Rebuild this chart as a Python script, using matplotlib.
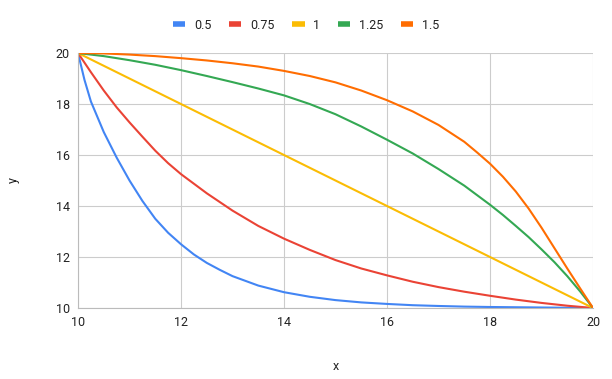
import matplotlib.pyplot as plt

plt.rcParams['font.family'] = ['Roboto', 'DejaVu Sans']

# series (x, y)
x_05 = [10, 10.125, 10.25, 10.5, 10.75, 11, 11.25, 11.5, 11.75, 12, 12.25, 12.5, 12.75, 13, 13.5, 14, 14.5, 15,
        15.5, 16, 16.5, 17, 17.5, 18, 19, 20]
y_05 = [20, 18.95, 18.1, 16.9, 15.9, 15.0, 14.2, 13.5, 12.95, 12.5, 12.1, 11.77, 11.5, 11.25, 10.88, 10.62,
        10.44, 10.31, 10.22, 10.16, 10.11, 10.08, 10.055, 10.04, 10.02, 10]

x_075 = [10, 10.25, 10.5, 10.75, 11, 11.25, 11.5, 11.75, 12, 12.5, 13, 13.5, 14, 14.5, 15, 15.5, 16, 16.5,
         17, 17.5, 18, 18.5, 19, 19.5, 20]
y_075 = [20, 19.25, 18.53, 17.87, 17.28, 16.72, 16.17, 15.68, 15.25, 14.5, 13.82, 13.22, 12.72, 12.28, 11.88,
         11.55, 11.28, 11.03, 10.82, 10.64, 10.48, 10.33, 10.2, 10.09, 10]

x_1 = [10, 20]
y_1 = [20, 10]

x_125 = [10, 10.5, 11, 11.5, 12, 12.5, 13, 13.5, 14, 14.5, 15, 15.5, 16, 16.5, 17, 17.5, 18, 18.25, 18.5,
         18.75, 19, 19.25, 19.5, 19.75, 20]
y_125 = [20, 19.88, 19.72, 19.54, 19.33, 19.1, 18.86, 18.61, 18.34, 18.0, 17.6, 17.12, 16.6, 16.06, 15.45,
         14.8, 14.05, 13.65, 13.22, 12.78, 12.3, 11.8, 11.25, 10.65, 10]

x_15 = [10, 10.5, 11, 11.5, 12, 12.5, 13, 13.5, 14, 14.5, 15, 15.5, 16, 16.5, 17, 17.5, 17.75, 18, 18.25,
        18.5, 18.75, 19, 19.25, 19.5, 19.75, 20]
y_15 = [20, 19.985, 19.94, 19.88, 19.8, 19.71, 19.6, 19.47, 19.3, 19.1, 18.85, 18.53, 18.15, 17.71, 17.18,
        16.52, 16.1, 15.66, 15.15, 14.57, 13.9, 13.15, 12.35, 11.55, 10.77, 10]

labels = ["0.5", "0.75", "1", "1.25", "1.5"]
colors = ["#4285F4", "#EA4335", "#FBBC04", "#34A853", "#FF6D01"]
series = [(x_05, y_05), (x_075, y_075), (x_1, y_1), (x_125, y_125), (x_15, y_15)]

fig = plt.figure(figsize=(6.12, 3.79), dpi=100)
ax = fig.add_axes([0.1275, 0.1873, 0.969 - 0.1275, 0.860 - 0.1873])

for (xs, ys), lab, c in zip(series, labels, colors):
    ax.plot(xs, ys, color=c, linewidth=1.5, label=lab, solid_capstyle='round', solid_joinstyle='round')

ax.set_xlim(10, 20)
ax.set_ylim(10, 20)
ax.set_xticks([10, 12, 14, 16, 18, 20])
ax.set_yticks([10, 12, 14, 16, 18, 20])
ax.grid(True, color="#cccccc", linewidth=0.8)
ax.set_axisbelow(True)
for s in ax.spines.values():
    s.set_visible(False)
ax.spines['bottom'].set_visible(True)
ax.spines['bottom'].set_color("#bbbbbb")
ax.spines['left'].set_visible(True)
ax.spines['left'].set_color("#bbbbbb")
ax.tick_params(length=0, labelsize=9, labelcolor="#222222", pad=6)

ax.set_xlabel("x", fontsize=9, color="#222222", labelpad=22)
ax.set_ylabel("y", fontsize=9, color="#222222", labelpad=26)

leg = fig.legend(loc='center', bbox_to_anchor=(0.5, 0.934), ncol=5, frameon=False,
                 fontsize=9, handlelength=1.0, handletextpad=0.7, columnspacing=1.4)
for h in leg.get_lines():
    h.set_linewidth(4)
    h.set_solid_capstyle('butt')
for t in leg.get_texts():
    t.set_color("#222222")

fig.savefig("out.png", dpi=100)
